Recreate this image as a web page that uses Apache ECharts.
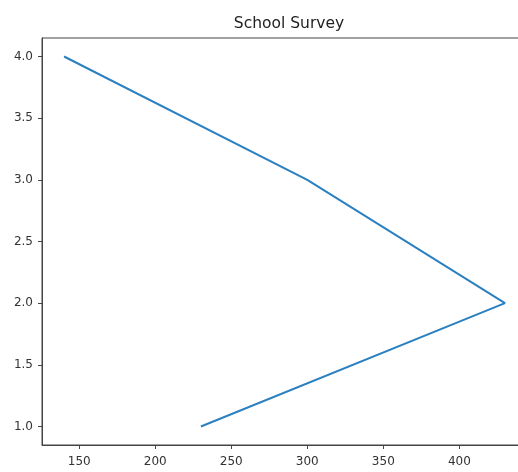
<!DOCTYPE html>
<html>
<head>
<meta charset="utf-8">
<script src="https://cdn.jsdelivr.net/npm/echarts@6/dist/echarts.min.js"></script>
<style>
  html, body { margin: 0; padding: 0; background: #fff; overflow: hidden; }
  #chart { width: 527px; height: 472px; }
</style>
</head>
<body>
<div id="chart"></div>
<script>
// Survey responses: x value for each level on the y axis
const levels = [1, 2, 3, 4];
const counts = [230, 430, 300, 140];
const xTicks = [150, 200, 250, 300, 350, 400];
const yTicks = [1.0, 1.5, 2.0, 2.5, 3.0, 3.5, 4.0];

const points = levels.map((lv, i) => [counts[i], lv]);

const font = 'DejaVu Sans';
const inkColor = '#333';
const frameColor = '#444';

const chart = echarts.init(document.getElementById('chart'), null, { renderer: 'canvas' });
chart.setOption({
  animation: false,
  title: {
    text: 'School Survey',
    left: 284,
    textAlign: 'center',
    top: 11,
    textStyle: { fontFamily: font, fontSize: 15.5, fontWeight: 'normal', color: '#222' }
  },
  grid: {
    left: 42, right: 0, top: 38, bottom: 27,
    show: true, borderColor: frameColor, borderWidth: 1, backgroundColor: 'transparent'
  },
  xAxis: {
    type: 'value',
    min: 125.5, max: 444.5,
    splitLine: { show: false },
    axisLine: { show: true, lineStyle: { color: frameColor, width: 1 } },
    axisTick: { show: true, length: 4, customValues: xTicks, lineStyle: { color: frameColor } },
    axisLabel: {
      customValues: xTicks, margin: 11,
      fontFamily: font, fontSize: 12, color: inkColor,
      formatter: v => String(v)
    }
  },
  yAxis: {
    type: 'value',
    min: 0.85, max: 4.15,
    splitLine: { show: false },
    axisLine: { show: true, lineStyle: { color: frameColor, width: 1 } },
    axisTick: { show: true, length: 4, customValues: yTicks, lineStyle: { color: frameColor } },
    axisLabel: {
      customValues: yTicks, margin: 9,
      fontFamily: font, fontSize: 12, color: inkColor,
      formatter: v => Number(v).toFixed(1)
    }
  },
  series: [{
    type: 'line',
    data: points,
    showSymbol: false,
    lineStyle: { color: '#2a80c0', width: 2 },
    itemStyle: { color: '#2a80c0' }
  }]
});
</script>
</body>
</html>
